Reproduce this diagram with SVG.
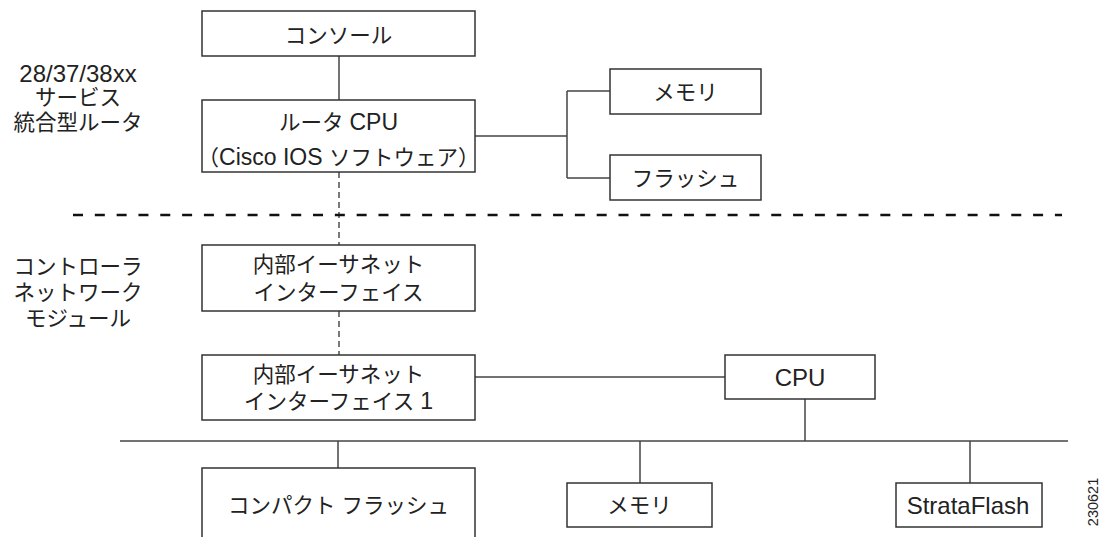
<svg xmlns="http://www.w3.org/2000/svg" width="1103" height="537" viewBox="0 0 1103 537">
<style>
.box{fill:#fff;stroke:#333;stroke-width:1.5}
.ln{fill:none;stroke:#444;stroke-width:1.5}
.vd{fill:none;stroke:#222;stroke-width:1.2;stroke-dasharray:6 4}
.hd{fill:none;stroke:#111;stroke-width:2.5;stroke-dasharray:10 11.82}
text{font-family:"Liberation Sans","Noto Sans CJK JP",sans-serif;font-size:21.5px;fill:#222;text-anchor:middle}
.l{font-size:23px}
.L{font-size:24px}
</style>
<rect width="1103" height="537" fill="#fff"/>
<g id="connectors">
<line class="ln" x1="339" y1="56" x2="339" y2="100"/>
<path class="ln" d="M475,136 H567 M567,91 V178 M567,91 H610 M567,178 H610"/>
<line class="vd" x1="339" y1="172" x2="339" y2="245"/>
<line class="vd" x1="339" y1="311" x2="339" y2="355"/>
<line class="hd" x1="73" y1="215" x2="1062" y2="215"/>
<line class="ln" x1="475" y1="377" x2="725" y2="377"/>
<line class="ln" x1="805" y1="399" x2="805" y2="441"/>
<line class="ln" x1="120" y1="441" x2="1068" y2="441"/>
<line class="ln" x1="338" y1="441" x2="338" y2="468"/>
<line class="ln" x1="640" y1="441" x2="640" y2="483"/>
<line class="ln" x1="970" y1="441" x2="970" y2="483"/>
</g>
<g id="label-router">
<text x="78" y="81.5" class="L">28/37/38xx</text>
<text x="78" y="105">サービス</text>
<text x="78" y="129.5">統合型ルータ</text>
</g>
<g id="label-module">
<text x="78" y="274">コントローラ</text>
<text x="78" y="300">ネットワーク</text>
<text x="78" y="326">モジュール</text>
</g>
<g id="console">
<rect class="box" x="202" y="11" width="273" height="45"/>
<text x="338.5" y="43">コンソール</text>
</g>
<g id="router-cpu">
<rect class="box" x="202" y="100" width="273" height="72"/>
<text x="338.5" y="130">ルータ <tspan class="l">CPU</tspan></text>
<text x="338.5" y="165">（<tspan class="l">Cisco IOS </tspan>ソフトウェア）</text>
</g>
<g id="memory-top">
<rect class="box" x="610" y="69" width="151" height="45"/>
<text x="685.5" y="99.5">メモリ</text>
</g>
<g id="flash-top">
<rect class="box" x="610" y="155" width="151" height="45"/>
<text x="685.5" y="186">フラッシュ</text>
</g>
<g id="eth1">
<rect class="box" x="202" y="245" width="273" height="66"/>
<text x="338.5" y="272">内部イーサネット</text>
<text x="338.5" y="300">インターフェイス</text>
</g>
<g id="eth2">
<rect class="box" x="202" y="355" width="273" height="65"/>
<text x="338.5" y="382">内部イーサネット</text>
<text x="338.5" y="409">インターフェイス <tspan class="l">1</tspan></text>
</g>
<g id="cpu">
<rect class="box" x="725" y="355" width="150" height="44"/>
<text x="800" y="385.5" class="L">CPU</text>
</g>
<g id="compact-flash">
<path class="box" d="M202,540 V468 H475 V540"/>
<text x="338.5" y="512.5">コンパクト フラッシュ</text>
</g>
<g id="memory-bottom">
<rect class="box" x="567" y="483" width="145" height="44"/>
<text x="639.5" y="513">メモリ</text>
</g>
<g id="strataflash">
<rect class="box" x="896" y="483" width="146" height="44"/>
<text x="968" y="513.5" class="L">StrataFlash</text>
</g>
<text x="0" y="0" transform="translate(1098,502) rotate(-90)" style="font-size:14.5px">230621</text>
</svg>
